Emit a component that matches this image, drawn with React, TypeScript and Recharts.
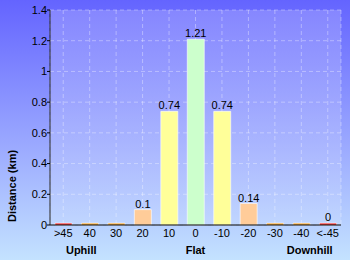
import React from 'react';
import { BarChart, Bar, XAxis, YAxis, CartesianGrid, Cell, LabelList } from 'recharts';

const categories = ['>45', '40', '30', '20', '10', '0', '-10', '-20', '-30', '-40', '<-45'];
const distances = [0.012, 0.012, 0.012, 0.1, 0.74, 1.21, 0.74, 0.14, 0.012, 0.012, 0.012];
const valueLabels = ['', '', '', '0.1', '0.74', '1.21', '0.74', '0.14', '', '', '0'];
const barColors = ['#ff0000', '#ff9900', '#ff9900', '#ffcc99', '#ffff99', '#ccffcc', '#ffff99', '#ffcc99', '#ff9900', '#ff9900', '#ff0000'];
const majorTicks = [0, 0.2, 0.4, 0.6, 0.8, 1, 1.2, 1.4];
const minorTicks = [0.1, 0.3, 0.5, 0.7, 0.9, 1.1, 1.3];
const groupLabels: Record<number, { text: string; dx: number }> = {
  0: { text: 'Uphill', dx: 18 },
  5: { text: 'Flat', dx: 0 },
  10: { text: 'Downhill', dx: -18 },
};

const data = categories.map((c, i) => ({
  name: c,
  value: distances[i],
  label: valueLabels[i],
  color: barColors[i],
}));

const font = '"Liberation Sans", Arial, sans-serif';

function XTick(props: any) {
  const { x, y, payload, index } = props;
  const g = groupLabels[index];
  return (
    <g>
      <text x={x} y={y + 4} textAnchor="middle" fontSize={11} fill="#000" fontFamily={font}>
        {payload.value}
      </text>
      {g && (
        <text x={x + g.dx} y={y + 21} textAnchor="middle" fontSize={11} fontWeight="bold" fill="#000" fontFamily={font}>
          {g.text}
        </text>
      )}
    </g>
  );
}

export default function App() {
  return (
    <div
      style={{
        position: 'absolute',
        left: 0,
        top: 0,
        width: 350,
        height: 260,
        background: 'linear-gradient(to bottom, #6464ff 0%, #9aa8ff 55%, #c4e2ff 100%)',
      }}
    >
      <BarChart width={350} height={260} data={data} margin={{ top: 10, right: 9, left: 0, bottom: 15 }}>
        <defs>
          <linearGradient id="plotBg" x1="0" y1="0" x2="0" y2="1">
            <stop offset="0%" stopColor="#ffffff" stopOpacity={0.2} />
            <stop offset="100%" stopColor="#ffffff" stopOpacity={0.12} />
          </linearGradient>
        </defs>
        <CartesianGrid
          yAxisId="main"
          fill="url(#plotBg)"
          stroke="#ffffff"
          strokeOpacity={0.35}
          strokeDasharray="4 3"
        />
        <XAxis
          dataKey="name"
          interval={0}
          height={20}
          axisLine={{ stroke: '#000' }}
          tickLine={false}
          tick={<XTick />}
        />
        <YAxis
          yAxisId="main"
          width={50}
          domain={[0, 1.4]}
          ticks={majorTicks}
          interval={0}
          tickSize={3}
          tickMargin={0}
          axisLine={{ stroke: '#222' }}
          tickLine={{ stroke: '#000' }}
          tick={{ fontSize: 11, fill: '#000', fontFamily: font }}
          label={{
            content: () => (
              <text
                x={16}
                y={186}
                transform="rotate(-90 16 186)"
                textAnchor="middle"
                fontSize={11}
                fontWeight="bold"
                fill="#000"
                fontFamily={font}
              >
                Distance (km)
              </text>
            ),
          }}
        />
        <YAxis
          yAxisId="minor"
          width={0}
          domain={[0, 1.4]}
          ticks={minorTicks}
          interval={0}
          tickSize={3}
          axisLine={false}
          tickLine={{ stroke: '#ff0000' }}
          tick={false}
        />
        <YAxis
          yAxisId="inner"
          width={0}
          mirror
          domain={[0, 1.4]}
          ticks={majorTicks}
          interval={0}
          tickSize={3}
          axisLine={false}
          tickLine={{ stroke: '#000' }}
          tick={false}
        />
        <Bar
          yAxisId="main"
          dataKey="value"
          barSize={17}
          stroke="#ffffff"
          strokeOpacity={0.6}
          isAnimationActive={false}
        >
          {data.map((d, i) => (
            <Cell key={`cell-${i}`} fill={d.color} />
          ))}
          <LabelList
            dataKey="label"
            position="top"
            offset={2}
            fontSize={11}
            fill="#000"
            fontFamily={font}
          />
        </Bar>
      </BarChart>
    </div>
  );
}
